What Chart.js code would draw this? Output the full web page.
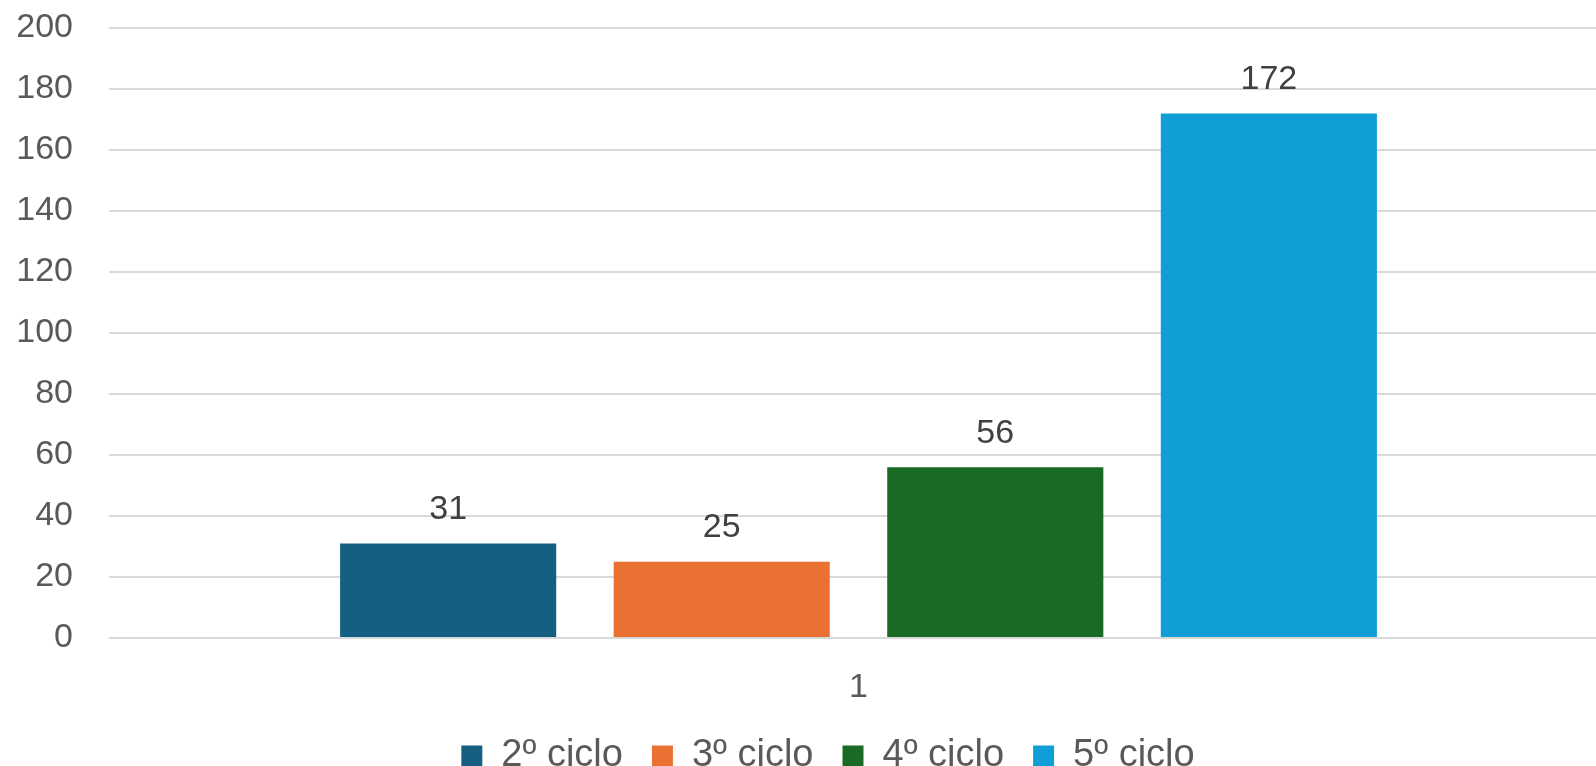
<!DOCTYPE html>
<html>
<head>
<meta charset="utf-8">
<script src="https://cdn.jsdelivr.net/npm/chart.js@4.4.1/dist/chart.umd.min.js"></script>
<style>
  html, body { margin: 0; padding: 0; background: #fff; }
  #outer { width: 1596px; height: 766px; overflow: hidden; position: relative; }
  #wrap { width: 1608px; height: 766px; position: absolute; left: 0; top: 0; }
</style>
</head>
<body>
<div id="outer"><div id="wrap"><canvas id="mycanvas"></canvas></div></div>
<script>
var categories = ['1'];
var seriesNames = ['2º ciclo', '3º ciclo', '4º ciclo', '5º ciclo'];
var seriesValues = [[31], [25], [56], [172]];
var seriesColors = ['#156082', '#E97132', '#196B24', '#0F9ED5'];
var yTicks = [0, 20, 40, 60, 80, 100, 120, 140, 160, 180, 200];

var fontFamily = "'Liberation Sans', Arial, sans-serif";

// labels on top of the bars
var barLabels = {
  id: 'barLabels',
  afterLayout: function(chart) {
    // legend sits a bit right of the canvas centre in the original
    chart.legend.left += 24;
    chart.legend.right += 24;
  },
  afterDatasetsDraw: function(chart) {
    var ctx = chart.ctx;
    ctx.save();
    ctx.font = '34px ' + fontFamily;
    ctx.fillStyle = '#404040';
    ctx.textAlign = 'center';
    ctx.textBaseline = 'middle';
    chart.data.datasets.forEach(function(ds, i) {
      var meta = chart.getDatasetMeta(i);
      meta.data.forEach(function(bar, j) {
        ctx.fillText(ds.data[j], bar.x, bar.y - 34);
      });
    });
    ctx.restore();
  }
};

var datasets = [];
for (var i in seriesNames) {
  datasets.push({
    label: seriesNames[i],
    data: seriesValues[i],
    backgroundColor: seriesColors[i],
    borderWidth: 0,
    barPercentage: 0.79,
    categoryPercentage: 0.73
  });
}

var ctx = document.getElementById('mycanvas');
var barGraph = new Chart(ctx, {
  type: 'bar',
  data: { labels: categories, datasets: datasets },
  options: {
    responsive: true,
    maintainAspectRatio: false,
    animation: false,
    layout: { padding: { top: 28, right: 0, bottom: -19, left: 0 } },
    plugins: {
      tooltip: { enabled: false },
      legend: {
        position: 'bottom',
        labels: {
          boxWidth: 21,
          boxHeight: 21,
          padding: 29,
          color: '#595959',
          font: { family: fontFamily, size: 38 }
        }
      }
    },
    scales: {
      x: {
        grid: { display: false, drawTicks: false },
        border: { display: false },
        afterFit: function(scale) {
          scale.height = 70;
          scale.paddingBottom = 0;
        },
        ticks: { color: '#595959', padding: 33, maxRotation: 0, font: { family: fontFamily, size: 34, lineHeight: 1 } }
      },
      y: {
        min: 0,
        max: 200,
        afterBuildTicks: function(scale) {
          scale.ticks = yTicks.map(function(v) { return { value: v }; });
        },
        afterFit: function(scale) {
          scale.width = 109;
          scale.paddingTop = 0;
          scale.paddingBottom = 0;
        },
        grid: { color: '#d9d9d9', lineWidth: 2, drawTicks: false },
        border: { display: false },
        ticks: { color: '#595959', padding: 36, font: { family: fontFamily, size: 34 } }
      }
    }
  },
  plugins: [barLabels]
});
</script>
</body>
</html>
